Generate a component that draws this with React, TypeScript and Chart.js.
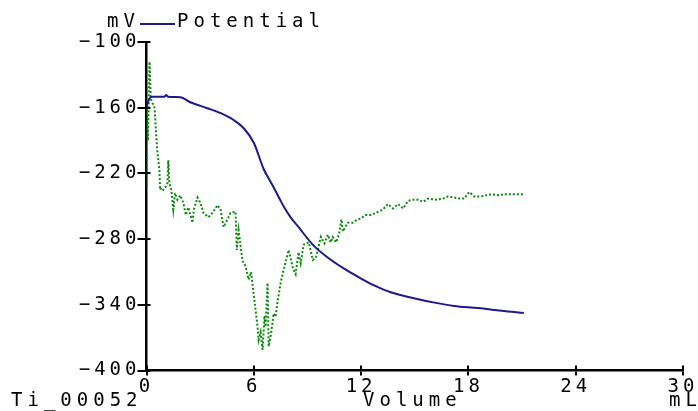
import React, { useEffect, useRef } from "react";
import { Chart, registerables } from "chart.js";

Chart.register(...registerables);

const potentialX = [0, 0.15, 0.3, 1.0, 1.1, 1.2, 1.9, 2.45, 3.4, 4.15, 4.85, 5.45, 6.0, 6.55, 6.95, 7.15, 7.5, 7.7, 8.05, 8.45, 9.35, 10.15, 11.05, 12.0, 12.7, 13.65, 14.95, 16.1, 17.2, 18.55, 19.85, 21.1];
const potentialY = [-159, -152, -150, -150, -148.5, -150, -150.5, -155, -160.5, -165, -171, -179, -192, -216, -228, -234, -245, -251, -260, -268, -286, -297, -307, -316, -322, -328.5, -334, -338, -341, -343, -345.5, -347.5];

const derivX = [0, 0.02, 0.08, 0.17, 0.24, 0.45, 0.55, 0.6, 0.72, 0.76, 0.83, 0.94, 1.05, 1.17, 1.22, 1.28, 1.39, 1.5, 1.6, 1.73, 1.89, 2.06, 2.2, 2.34, 2.57, 2.65, 2.85, 3.02, 3.18, 3.47, 3.69, 3.97, 4.14, 4.31, 4.53, 4.7, 4.98, 5.05, 5.15, 5.37, 5.54, 5.71, 5.85, 5.99, 6.1, 6.21, 6.27, 6.38, 6.49, 6.6, 6.66, 6.77, 6.83, 6.94, 7.11, 7.22, 7.34, 7.5, 7.67, 7.95, 8.18, 8.34, 8.5, 8.62, 8.79, 9.07, 9.3, 9.47, 9.75, 9.95, 10.14, 10.3, 10.42, 10.6, 10.76, 10.9, 10.98, 11.26, 11.54, 11.71, 11.99, 12.27, 12.55, 12.83, 13.22, 13.5, 13.78, 14.07, 14.35, 14.63, 14.91, 15.19, 15.47, 15.75, 16.2, 16.59, 16.87, 17.21, 17.49, 17.77, 18.05, 18.33, 18.72, 19.28, 19.67, 20.01, 20.4, 20.8, 21.13];
const derivY = [-232, -160, -190, -118, -152, -160, -187, -199, -217, -235, -233, -235, -233, -229, -208, -229, -235, -253, -238, -244, -240, -247, -258, -251, -265, -253, -242, -247, -256, -260, -256, -249, -253, -269, -262, -256, -255, -290, -272, -300, -305, -317, -310, -330, -345, -360, -372, -365, -381, -350, -360, -320, -378, -369, -348, -351, -336, -320, -308, -290, -306, -312, -292, -302, -285, -283, -299, -297, -278, -284, -276, -283, -278, -283, -276, -262, -273, -265, -265, -263, -261, -258, -258, -256, -253, -248, -252, -248, -252, -245, -244, -244, -246, -243, -244, -243, -241, -242, -243, -243, -237, -241, -241, -239, -240, -239, -239, -239, -239];

const xTicks = [0, 6, 12, 18, 24, 30];
const yTicks = [-400, -340, -280, -220, -160, -100];

const FONT = "DejaVu Sans Mono";

export default function App() {
  const ref = useRef<HTMLCanvasElement | null>(null);

  useEffect(() => {
    document.body.style.margin = "0";
    const canvas = ref.current!;
    const overlay = {
      id: "overlay",
      beforeDraw(chart: any) {
        chart.ctx.letterSpacing = "4px";
      },
      afterDraw(chart: any) {
        const ctx = chart.ctx;
        const area = chart.chartArea;
        const xs = chart.scales.x;
        const ys = chart.scales.y;
        ctx.save();
        ctx.strokeStyle = "#000";
        ctx.lineWidth = 2;
        ctx.beginPath();
        for (const v of yTicks) {
          const p = Math.round(ys.getPixelForValue(v));
          ctx.moveTo(area.left, p);
          ctx.lineTo(area.left + 4, p);
        }
        for (const v of xTicks) {
          const p = Math.round(xs.getPixelForValue(v));
          ctx.moveTo(p, area.bottom);
          ctx.lineTo(p, area.bottom - 5);
        }
        ctx.stroke();
        ctx.fillStyle = "#000";
        ctx.font = `19px "${FONT}"`;
        ctx.letterSpacing = "5px";
        ctx.textBaseline = "alphabetic";
        ctx.textAlign = "left";
        ctx.fillText("mV", 107, 27);
        ctx.fillText("Potential", 177, 27);
        ctx.fillText("Ti_00052", 11, 406);
        ctx.fillText("Volume", 363, 406);
        ctx.fillText("mL", 669, 406);
        ctx.strokeStyle = "#1a1a8c";
        ctx.lineWidth = 2;
        ctx.beginPath();
        ctx.moveTo(140, 24);
        ctx.lineTo(175, 24);
        ctx.stroke();
        ctx.restore();
      },
    };

    const chart = new Chart(canvas, {
      type: "line",
      data: {
        datasets: [
          {
            label: "Potential",
            data: potentialX.map((x, i) => ({ x, y: potentialY[i] })),
            borderColor: "#1a1a8c",
            borderWidth: 2,
            pointRadius: 0,
            cubicInterpolationMode: "monotone",
          },
          {
            label: "dE/dV",
            data: derivX.map((x, i) => ({ x, y: derivY[i] })),
            borderColor: "#0a8a0a",
            borderWidth: 2,
            borderDash: [2, 2],
            pointRadius: 0,
            tension: 0,
          },
        ],
      },
      options: {
        animation: false,
        responsive: false,
        devicePixelRatio: 1,
        layout: { padding: { left: 0, top: 42, right: 15, bottom: 0 } },
        plugins: { legend: { display: false }, tooltip: { enabled: false } },
        scales: {
          x: {
            type: "linear",
            min: 0,
            max: 30,
            afterFit: (s: any) => { s.height = 40.5; },
            afterBuildTicks: (s: any) => { s.ticks = xTicks.map((v) => ({ value: v })); },
            grid: { drawOnChartArea: false, drawTicks: true, tickLength: 5, color: "#000", lineWidth: 2 },
            border: { display: true, color: "#000", width: 2.5 },
            ticks: { color: "#000", font: { family: FONT, size: 19 }, padding: 0, maxRotation: 0 },
          },
          y: {
            type: "linear",
            min: -400,
            max: -100,
            afterFit: (s: any) => { s.width = 146.5; },
            afterBuildTicks: (s: any) => { s.ticks = yTicks.map((v) => ({ value: v })); },
            grid: { drawOnChartArea: false, drawTicks: true, tickLength: 9, color: "#000", lineWidth: 2 },
            border: { display: true, color: "#000", width: 2.5 },
            ticks: {
              color: "#000",
              font: { family: FONT, size: 19 },
              padding: -3,
              callback: (v: any) => String(v).replace("-", "\u2212"),
            },
          },
        },
      },
      plugins: [overlay],
    });
    return () => chart.destroy();
  }, []);

  return <canvas ref={ref} width={698} height={411} style={{ display: "block", width: 698, height: 411 }} />;
}
